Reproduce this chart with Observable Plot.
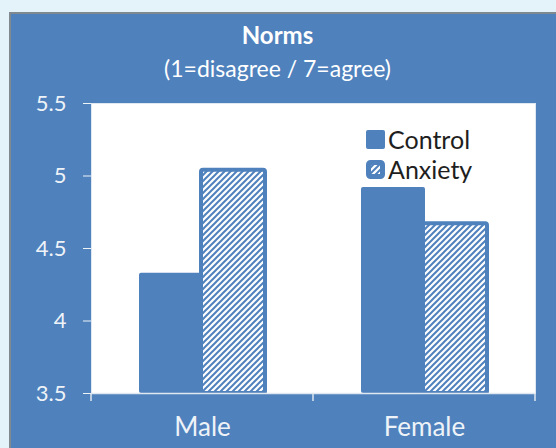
<!DOCTYPE html>
<html>
<head>
<meta charset="utf-8">
<script src="https://cdn.jsdelivr.net/npm/d3@7"></script>
<script src="https://cdn.jsdelivr.net/npm/@observablehq/plot@0.6"></script>
<style>
  html, body { margin: 0; padding: 0; }
  body { width: 556px; height: 448px; overflow: hidden; background: #e4f2fa; position: relative; font-family: Lato, "Open Sans", sans-serif; }
  #panel { position: absolute; left: 9px; top: 12px; width: 547px; height: 436px; background: #4f81bd; border-top: 2px solid #808890; border-left: 2px solid #808890; box-sizing: border-box; }
  #chart { position: absolute; left: 0; top: 0; }
  .title { position: absolute; left: 0; width: 555px; text-align: center; color: #ffffff; white-space: nowrap; }
  #t1 { top: 22.7px; font-size: 24px; line-height: 24px; font-weight: bold; }
  #t2 { top: 56.5px; font-size: 23px; line-height: 23px; }
  #legend { position: absolute; left: 366px; top: 124px; color: #1e1e1e; font-size: 25px; }
  .lg { display: flex; align-items: center; height: 30px; }
  .lg svg { margin-right: 3px; }
</style>
</head>
<body>
<div id="panel"></div>
<div id="chart"></div>
<div class="title" id="t1">Norms</div>
<div class="title" id="t2">(1=disagree / 7=agree)</div>
<div id="legend"></div>
<script>
const genders = ["Male", "Female"];
const conditions = ["Control", "Anxiety"];
const controlValues = [4.33, 4.92];
const anxietyValues = [5.04, 4.67];
const yDomain = [3.5, 5.5];
const yTickValues = [3.5, 4, 4.5, 5, 5.5];

const blue = "#4f81bd";
const controlData = genders.map((g, i) => ({gender: g, condition: conditions[0], value: controlValues[i]}));
const anxietyData = genders.map((g, i) => ({gender: g, condition: conditions[1], value: anxietyValues[i]}));

const plot = Plot.plot({
  width: 556,
  height: 448,
  marginTop: 103,
  marginBottom: 55,
  marginLeft: 91,
  marginRight: 21,
  style: {background: "transparent", color: "#eef3f8", fontFamily: "Lato, 'Open Sans', sans-serif", fontSize: "22px"},
  x: {domain: genders, padding: 0, tickSize: 0, tickPadding: 24, label: null},
  y: {domain: yDomain, ticks: yTickValues, tickSize: 8, tickPadding: 17, tickFormat: d => String(d), label: null},
  marks: [
    Plot.frame({fill: "white", stroke: "#dfe7f0"}),
    Plot.barY(controlData, {x: "gender", y1: yDomain[0], y2: "value", fill: blue, insetLeft: 48, insetRight: 110, rx: 2}),
    Plot.barY(anxietyData, {x: "gender", y1: yDomain[0], y2: "value", fill: "url(#hatch)", stroke: blue, strokeWidth: 4, insetLeft: 110, insetRight: 48, rx: 2}),
    Plot.ruleY([yDomain[0]], {stroke: "#dfe7f0", strokeWidth: 1.5})
  ]
});

const svg = d3.select(plot);
const defs = svg.insert("defs", ":first-child");
const pat = defs.append("pattern").attr("id", "hatch").attr("patternUnits", "userSpaceOnUse").attr("width", 6).attr("height", 6);
pat.append("rect").attr("width", 6).attr("height", 6).attr("fill", "white");
pat.append("path").attr("d", "M-1,1 l2,-2 M0,6 l6,-6 M5,7 l2,-2").attr("stroke", blue).attr("stroke-width", 2);

// x labels font size
svg.selectAll("g[aria-label='x-axis'] text, g[aria-label='x-axis tick label'] text").style("font-size", "26px");

// category boundary ticks, from the x scale
const xs = plot.scale("x");
const ys = plot.scale("y");
const edges = genders.map(g => xs.apply(g)).concat([xs.apply(genders[genders.length - 1]) + xs.bandwidth]);
const y0 = ys.apply(yDomain[0]);
svg.append("g").attr("stroke", "#dfe7f0").attr("stroke-width", 1.5)
  .selectAll("line").data(edges).join("line")
  .attr("x1", d => d).attr("x2", d => d).attr("y1", y0).attr("y2", y0 + 8);

document.getElementById("chart").appendChild(plot);

// legend
const legend = d3.select("#legend");
const items = [
  {label: conditions[0], hatch: false},
  {label: conditions[1], hatch: true}
];
items.forEach(it => {
  const row = legend.append("div").attr("class", "lg");
  const s = row.append("svg").attr("width", 19).attr("height", 19);
  if (it.hatch) {
    s.append("rect").attr("x", 2.5).attr("y", 2.5).attr("width", 14).attr("height", 14).attr("rx", 2).attr("fill", "url(#hatch)").attr("stroke", blue).attr("stroke-width", 5);
  } else {
    s.append("rect").attr("width", 19).attr("height", 19).attr("rx", 2).attr("fill", blue);
  }
  row.append("span").text(it.label);
});
</script>
</body>
</html>
